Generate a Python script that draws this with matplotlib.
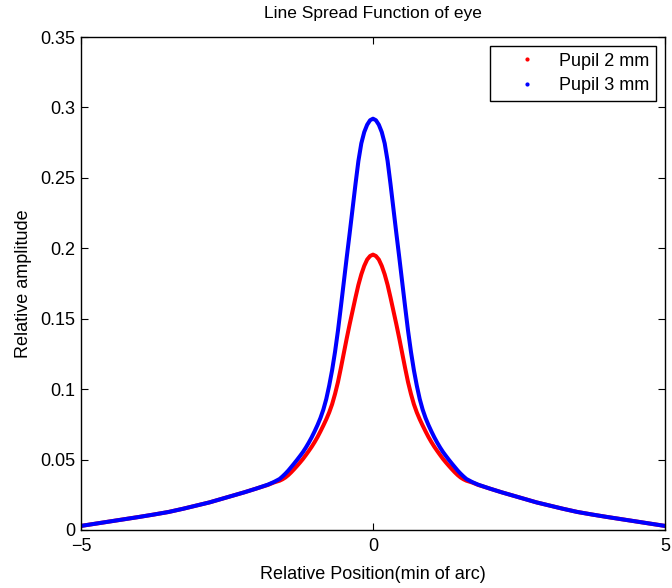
import matplotlib
matplotlib.use("Agg")
import matplotlib.pyplot as plt
from matplotlib.lines import Line2D

plt.rcParams['font.family'] = ['Liberation Sans', 'DejaVu Sans']

# Relative position (min of arc)
x_pos = [-5.0, -4.75, -4.5, -4.25, -4.0, -3.75, -3.5, -3.25, -3.0, -2.8, -2.6, -2.4, -2.2, -2.0,
         -1.8, -1.7, -1.6, -1.55, -1.5, -1.45, -1.4, -1.35, -1.3, -1.25, -1.2, -1.15, -1.1,
         -1.05, -1.0, -0.95, -0.9, -0.85, -0.8, -0.75, -0.7, -0.65, -0.6, -0.55, -0.5, -0.45,
         -0.4, -0.35, -0.3, -0.25, -0.2, -0.15, -0.1, -0.05, 0.0, 0.05, 0.1, 0.15, 0.2, 0.25,
         0.3, 0.35, 0.4, 0.45, 0.5, 0.55, 0.6, 0.65, 0.7, 0.75, 0.8, 0.85, 0.9, 0.95, 1.0,
         1.05, 1.1, 1.15, 1.2, 1.25, 1.3, 1.35, 1.4, 1.45, 1.5, 1.55, 1.6, 1.7, 1.8, 2.0, 2.2,
         2.4, 2.6, 2.8, 3.0, 3.25, 3.5, 3.75, 4.0, 4.25, 4.5, 4.75, 5.0]

pupil_2mm = [0.0029, 0.0045, 0.0061, 0.0077, 0.0093, 0.0110, 0.0128, 0.0151, 0.0176, 0.0196,
             0.0220, 0.0244, 0.0268, 0.0294, 0.0320, 0.0337, 0.0350, 0.0360, 0.0373, 0.0390,
             0.0410, 0.0432, 0.0455, 0.0479, 0.0504, 0.0532, 0.0561, 0.0591, 0.0624, 0.0660,
             0.0700, 0.0742, 0.0786, 0.0835, 0.0893, 0.0966, 0.1050, 0.1150, 0.1255, 0.1360,
             0.1460, 0.1555, 0.1650, 0.1740, 0.1815, 0.1875, 0.1920, 0.1945, 0.1955, 0.1945,
             0.1920, 0.1875, 0.1815, 0.1740, 0.1650, 0.1555, 0.1460, 0.1360, 0.1255, 0.1150,
             0.1050, 0.0966, 0.0893, 0.0835, 0.0786, 0.0742, 0.0700, 0.0660, 0.0624, 0.0591,
             0.0561, 0.0532, 0.0504, 0.0479, 0.0455, 0.0432, 0.0410, 0.0390, 0.0373, 0.0360,
             0.0350, 0.0337, 0.0320, 0.0294, 0.0268, 0.0244, 0.0220, 0.0196, 0.0176, 0.0151,
             0.0128, 0.0110, 0.0093, 0.0077, 0.0061, 0.0045, 0.0029]

pupil_3mm = [0.0029, 0.0045, 0.0061, 0.0077, 0.0093, 0.0110, 0.0128, 0.0151, 0.0176, 0.0196,
             0.0220, 0.0244, 0.0268, 0.0294, 0.0322, 0.0340, 0.0362, 0.0380, 0.0400, 0.0422,
             0.0447, 0.0472, 0.0498, 0.0525, 0.0553, 0.0585, 0.0620, 0.0658, 0.0700, 0.0745,
             0.0795, 0.0855, 0.0930, 0.1025, 0.1135, 0.1265, 0.1415, 0.1585, 0.1760, 0.1935,
             0.2105, 0.2280, 0.2455, 0.2620, 0.2745, 0.2825, 0.2877, 0.2909, 0.2920, 0.2909,
             0.2877, 0.2825, 0.2745, 0.2620, 0.2455, 0.2280, 0.2105, 0.1935, 0.1760, 0.1585,
             0.1415, 0.1265, 0.1135, 0.1025, 0.0930, 0.0855, 0.0795, 0.0745, 0.0700, 0.0658,
             0.0620, 0.0585, 0.0553, 0.0525, 0.0498, 0.0472, 0.0447, 0.0422, 0.0400, 0.0380,
             0.0362, 0.0340, 0.0322, 0.0294, 0.0268, 0.0244, 0.0220, 0.0196, 0.0176, 0.0151,
             0.0128, 0.0110, 0.0093, 0.0077, 0.0061, 0.0045, 0.0029]

series_labels = ['Pupil 2 mm', 'Pupil 3 mm']
x_ticks = [-5, 0, 5]
y_ticks = [0, 0.05, 0.1, 0.15, 0.2, 0.25, 0.3, 0.35]

fig = plt.figure(figsize=(6.72, 5.88), dpi=100)
ax = fig.add_axes([81/672, 58/588, 584/672, 493/588])

ax.plot(x_pos, pupil_2mm, color='#ff0000', lw=2.9, solid_capstyle='round', solid_joinstyle='round')
ax.plot(x_pos, pupil_3mm, color='#0000ff', lw=2.9, solid_capstyle='round', solid_joinstyle='round')

ax.set_xlim(-5, 5)
ax.set_ylim(0, 0.35)
ax.set_xticks(x_ticks)
ax.set_xticklabels(['\u22125', '0', '5'])
ax.set_yticks(y_ticks)
ax.set_yticklabels(['0', '0.05', '0.1', '0.15', '0.2', '0.25', '0.3', '0.35'])
ax.tick_params(direction='in', length=5, width=0.8, labelsize=13, top=True, right=True,
               colors='black')
ax.tick_params(axis='x', pad=6)
ax.tick_params(axis='y', pad=4)
for s in ax.spines.values():
    s.set_linewidth(1.0)
    s.set_color('black')

ax.set_title('Line Spread Function of eye', fontsize=12.5, pad=13.5)
ax.set_xlabel('Relative Position(min of arc)', fontsize=13, labelpad=8)
ax.set_ylabel('Relative amplitude', fontsize=13, labelpad=6)

handles = [Line2D([], [], color='#ff0000', marker='.', markersize=4, linestyle='none'),
           Line2D([], [], color='#0000ff', marker='.', markersize=4, linestyle='none')]
leg = ax.legend(handles, series_labels, loc='upper right', bbox_to_anchor=(0.9846, 0.981),
                fancybox=False, framealpha=1, edgecolor='black', fontsize=13,
                handlelength=3.4, handletextpad=0.1, borderpad=0.35, labelspacing=0.42,
                borderaxespad=0)
leg.get_frame().set_linewidth(1.0)

fig.savefig('out.png', dpi=100)
